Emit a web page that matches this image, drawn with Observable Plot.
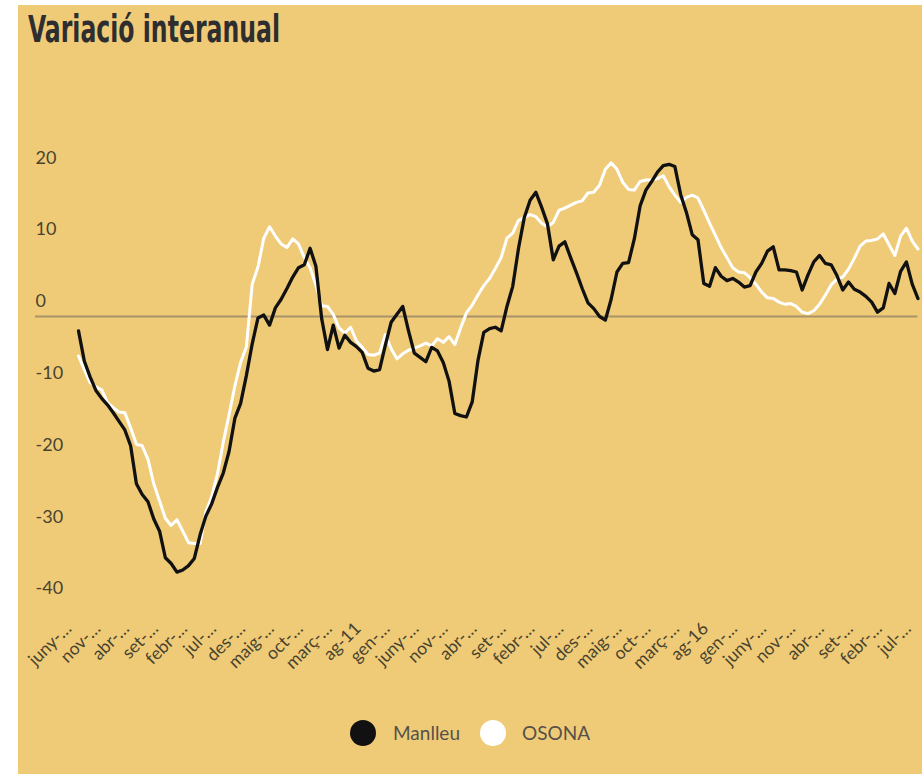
<!DOCTYPE html>
<html>
<head>
<meta charset="utf-8">
<script src="https://cdn.jsdelivr.net/npm/d3@7"></script>
<script src="https://cdn.jsdelivr.net/npm/@observablehq/plot@0.6"></script>
<style>
  html, body { margin: 0; padding: 0; background: #ffffff; width: 922px; height: 774px; overflow: hidden; }
  #panel { position: absolute; left: 18px; top: 5px; width: 904px; height: 769px; background: #f0cb77; }
  #title { position: absolute; left: 10px; top: 6px; margin: 0; font-family: "Liberation Sans Narrow", "DejaVu Sans Condensed", sans-serif; font-weight: bold; font-size: 37px; line-height: 37px; color: #2e2e30; white-space: nowrap; transform-origin: 0 0; display: inline-block; }
  #chart { position: absolute; left: 0; top: 95px; }
  #legend { position: absolute; left: 0; top: 714px; width: 904px; height: 28px; font-family: Lato, sans-serif; font-size: 19px; color: #55514a; }
  .sw { position: absolute; top: 1px; width: 26px; height: 26px; border-radius: 50%; }
  .lt { position: absolute; top: 0; line-height: 28px; }
</style>
</head>
<body>
<div id="panel">
  <div id="title">Variació interanual</div>
  <div id="chart"></div>
  <div id="legend"></div>
</div>
<script>
// ---- Data (monthly, June 2007 – July 2019) ----
const series = ["Manlleu", "OSONA"];
const seriesColors = ["#111111", "#ffffff"];

const manlleu = [
  -2.0, -6.2, -8.4, -10.3, -11.4, -12.3, -13.4, -14.6, -15.8, -18.0,
  -23.3, -24.8, -25.8, -28.2, -29.9, -33.6, -34.4, -35.6, -35.3, -34.7,
  -33.7, -30.4, -27.8, -26.1, -23.8, -21.8, -18.8, -14.2, -12.1, -8.2,
  -3.8, -0.2, 0.2, -1.2, 1.2, 2.4, 3.9, 5.5, 6.8, 7.2,
  9.5, 7.0, -0.3, -4.6, -1.2, -4.4, -2.6, -3.6, -4.2, -5.0,
  -7.2, -7.6, -7.4, -4.0, -0.8, 0.3, 1.4, -2.0, -5.1, -5.7,
  -6.3, -4.3, -4.8, -6.4, -9.0, -13.5, -13.8, -14.0, -11.9, -6.1,
  -2.2, -1.7, -1.5, -2.0, 1.4, 4.2, 9.5, 13.8, 16.2, 17.3,
  15.2, 12.9, 7.9, 9.8, 10.4, 8.2, 6.1, 3.9, 1.9, 1.1,
  0.0, -0.5, 2.4, 6.2, 7.4, 7.5, 10.8, 15.4, 17.6, 18.8,
  20.1, 21.0, 21.2, 20.9, 17.0, 14.5, 11.4, 10.7, 4.6, 4.2,
  6.8, 5.6, 5.0, 5.3, 4.8, 4.1, 4.3, 6.2, 7.4, 9.1,
  9.7, 6.5, 6.5, 6.4, 6.2, 3.7, 5.8, 7.6, 8.5, 7.4,
  7.2, 5.7, 3.7, 4.8, 3.8, 3.4, 2.8, 2.0, 0.6, 1.2,
  4.6, 3.2, 6.3, 7.6, 4.5, 2.5
];

const osona = [
  -5.5, -7.4, -9.2, -9.8, -10.2, -12.0, -12.7, -13.3, -13.4, -15.5,
  -17.8, -18.0, -19.9, -23.3, -25.7, -28.1, -29.1, -28.3, -29.9, -31.5,
  -31.6, -31.6, -27.2, -25.1, -21.9, -17.5, -13.7, -9.7, -6.4, -4.2,
  4.5, 6.9, 10.9, 12.5, 11.2, 10.1, 9.6, 10.8, 10.1, 8.2,
  6.8, 4.4, 1.5, 1.4, 0.3, -1.6, -2.3, -1.5, -3.4, -4.3,
  -5.3, -5.4, -5.1, -2.5, -4.5, -5.9, -5.2, -4.7, -4.4, -4.1,
  -3.7, -4.1, -3.1, -3.6, -2.8, -3.9, -1.6, 0.5, 1.6, 3.0,
  4.3, 5.3, 6.7, 8.2, 10.9, 11.6, 13.4, 13.8, 14.2, 13.9,
  13.0, 12.5, 13.1, 14.8, 15.1, 15.5, 15.9, 16.1, 17.2, 17.3,
  18.3, 20.5, 21.4, 20.5, 18.7, 17.7, 17.6, 18.8, 19.0, 19.0,
  19.2, 19.6, 18.1, 16.9, 15.9, 16.6, 16.9, 16.5, 14.8, 13.0,
  11.3, 9.6, 8.2, 6.8, 6.2, 6.1, 5.4, 4.5, 3.4, 2.6,
  2.5, 2.0, 1.7, 1.8, 1.4, 0.6, 0.4, 0.8, 1.7, 3.0,
  4.4, 5.2, 5.5, 6.6, 8.1, 9.8, 10.5, 10.6, 10.8, 11.5,
  10.0, 8.5, 11.2, 12.3, 10.5, 9.4
];

// x-axis tick labels (every 5th month, starting at index 0)
const xTickLabels = [
  "juny-…", "nov-…", "abr-…", "set-…", "febr-…", "jul-…", "des-…", "maig-…", "oct-…", "març-…",
  "ag-11", "gen-…", "juny-…", "nov-…", "abr-…", "set-…", "febr-…", "jul-…", "des-…", "maig-…",
  "oct-…", "març-…", "ag-16", "gen-…", "juny-…", "nov-…", "abr-…", "set-…", "febr-…", "jul-…"
];
const yTicks = [20, 10, 0, -10, -20, -30, -40];

// ---- Build table ----
const rows = [];
manlleu.forEach((v, i) => rows.push({ serie: "Manlleu", mes: i, valor: v }));
osona.forEach((v, i) => rows.push({ serie: "OSONA", mes: i, valor: v }));
const xTicks = xTickLabels.map((_, k) => k * 5);

const textColor = "#48432f";

const chart = Plot.plot({
  width: 904,
  height: 580,
  marginLeft: 17,
  marginRight: 4.5,
  marginTop: 72.4,
  marginBottom: 76.8,
  style: { background: "transparent", fontFamily: "Lato, sans-serif", fontSize: "18px", color: textColor, overflow: "visible" },
  x: { type: "linear", domain: [-7.43, 145], axis: null },
  y: { domain: [-40, 20], axis: null },
  color: { domain: series, range: seriesColors },
  marks: [
    Plot.axisY(yTicks, { anchor: "left", label: null, tickSize: 0, tickPadding: 0, textAnchor: "start", dy: -15,
      tickFormat: d => String(d), fill: textColor, fontSize: 18 }),
    Plot.axisX(xTicks, { anchor: "bottom", label: null, tickSize: 0, tickPadding: 22, tickRotate: -45, textAnchor: "end", lineAnchor: "middle",
      dx: -10, tickFormat: d => xTickLabels[d / 5], fill: textColor, fontSize: 17.5 }),
    Plot.ruleY([0], { stroke: "#a8936a", strokeWidth: 2 }),
    Plot.line(rows.filter(d => d.serie === "OSONA"), { x: "mes", y: "valor", stroke: "serie", strokeWidth: 3, curve: "linear" }),
    Plot.line(rows.filter(d => d.serie === "Manlleu"), { x: "mes", y: "valor", stroke: "serie", strokeWidth: 3.3, curve: "linear" })
  ]
});
document.getElementById("chart").appendChild(chart);

// ---- Legend ----
const legend = document.getElementById("legend");
const legendPos = [{ sw: 332, tx: 375 }, { sw: 462, tx: 504 }];
series.forEach((s, k) => {
  const sw = document.createElement("div");
  sw.className = "sw";
  sw.style.left = legendPos[k].sw + "px";
  sw.style.background = seriesColors[k];
  legend.appendChild(sw);
  const t = document.createElement("div");
  t.className = "lt";
  t.style.left = legendPos[k].tx + "px";
  t.textContent = s;
  legend.appendChild(t);
});

// ---- Title width fit ----
const title = document.getElementById("title");
const w = title.getBoundingClientRect().width;
title.style.transform = `scaleX(${252 / w})`;
</script>
</body>
</html>
